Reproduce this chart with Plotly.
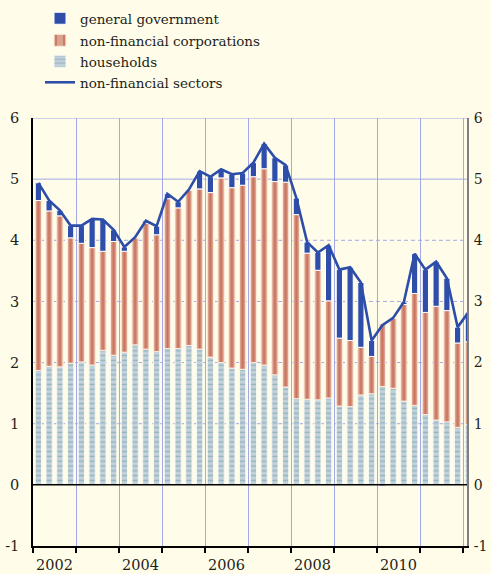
import plotly.graph_objects as go

# Quarterly observations, 2002 Q1 .. 2012 Q1
quarters = [2002 + 0.125 + 0.25 * i for i in range(41)]

households = [1.87, 1.94, 1.93, 1.99, 2.01, 1.96, 2.20, 2.12, 2.17, 2.29, 2.22, 2.18, 2.23, 2.23,
              2.28, 2.22, 2.09, 2.00, 1.91, 1.89, 2.00, 1.96, 1.80, 1.60, 1.41, 1.40, 1.39, 1.42,
              1.29, 1.28, 1.47, 1.49, 1.61, 1.58, 1.37, 1.30, 1.15, 1.06, 1.03, 0.94, 0.99]

non_fin_corp = [2.78, 2.54, 2.47, 2.05, 1.94, 1.92, 1.62, 1.86, 1.65, 1.75, 2.06, 1.91, 2.45, 2.30,
                2.54, 2.62, 2.69, 3.02, 2.95, 3.01, 3.04, 3.21, 3.16, 3.35, 3.01, 2.39, 2.12, 1.59,
                1.11, 1.08, 0.78, 0.61, 1.02, 1.15, 1.58, 1.83, 1.67, 1.86, 1.82, 1.38, 1.35]

general_gov = [0.29, 0.17, 0.09, 0.20, 0.29, 0.47, 0.52, 0.19, 0.07, 0.01, 0.04, 0.14, 0.08, 0.10,
               0.01, 0.29, 0.26, 0.14, 0.22, 0.20, 0.23, 0.41, 0.39, 0.28, 0.27, 0.18, 0.29, 0.91,
               1.12, 1.20, 1.06, 0.26, -0.02, 0.00, 0.04, 0.65, 0.70, 0.73, 0.53, 0.26, 0.48]

non_fin_sectors = [4.94, 4.65, 4.49, 4.24, 4.24, 4.35, 4.34, 4.17, 3.89, 4.05, 4.32, 4.23, 4.76, 4.63,
                   4.83, 5.13, 5.04, 5.16, 5.08, 5.10, 5.27, 5.58, 5.35, 5.23, 4.69, 3.97, 3.80, 3.92,
                   3.52, 3.56, 3.31, 2.36, 2.61, 2.73, 2.99, 3.78, 3.52, 3.65, 3.38, 2.58, 2.82]

year_bounds = list(range(2002, 2013))
label_years = [2002, 2004, 2006, 2008, 2010]
y_ticks = [-1, 0, 1, 2, 3, 4, 5, 6]
y_tick_text = ["-1", "0", "1", "2", "3", "4", "5", "6"]

BG = "#FFFDE9"
GRID = "#A3A8E6"
FONT = "DejaVu Serif, serif"
SLOT_PX = 10.75  # pixels per quarter

fig = go.Figure()
fig.add_trace(go.Bar(
    x=quarters, y=households, name="households", legend="legend3",
    marker=dict(color="#C3D1D9", line=dict(color="#F4F7F2", width=1),
                pattern=dict(shape="-", fgcolor="#6A98AA", bgcolor="#C3D1D9", size=4.8, solidity=0.32)),
))
fig.add_trace(go.Bar(
    x=quarters, y=non_fin_corp, name="non-financial corporations", legend="legend2",
    marker=dict(color="#D9A28C", line=dict(color="#FBEBDD", width=1),
                pattern=dict(shape="|", fgcolor="#BF3B2C", bgcolor="#D9A28C", size=SLOT_PX, solidity=0.2)),
))
fig.add_trace(go.Bar(
    x=quarters, y=general_gov, name="general government", legend="legend",
    marker=dict(color="#2E4EA9", line=dict(color="#FFFFFF", width=1)),
))
fig.add_trace(go.Scatter(
    x=quarters, y=non_fin_sectors, name="non-financial sectors", legend="legend4",
    mode="lines", line=dict(color="#2C4DA8", width=2.6),
))
# invisible trace to carry the right-hand axis
fig.add_trace(go.Scatter(x=[quarters[0]], y=[0], yaxis="y2", mode="markers",
                         marker=dict(opacity=0), showlegend=False, hoverinfo="skip"))

shapes = []
for v in [1, 2, 3, 4]:
    shapes.append(dict(type="line", xref="paper", x0=0, x1=1, yref="y", y0=v, y1=v,
                       line=dict(color=GRID, width=1, dash="4px,3px"), layer="below"))
for v in [5, 6]:
    shapes.append(dict(type="line", xref="paper", x0=0, x1=1, yref="y", y0=v, y1=v,
                       line=dict(color=GRID, width=1), layer="below"))
shapes.append(dict(type="line", xref="paper", x0=0, x1=1, yref="y", y0=0, y1=0,
                   line=dict(color="black", width=1.5), layer="above"))


def legend_box(top_px):
    return dict(xref="container", yref="container", x=40 / 491, y=1 - top_px / 574,
                xanchor="left", yanchor="top", bgcolor="rgba(0,0,0,0)",
                font=dict(family=FONT, size=13.5, color="#231F20"), itemwidth=30)


plot_w = 434
fig.update_layout(
    width=491, height=574,
    margin=dict(l=33, r=491 - 33 - plot_w, t=118, b=28, autoexpand=False),
    paper_bgcolor=BG, plot_bgcolor=BG,
    barmode="relative", bargap=0.42,
    font=dict(family=FONT, size=14, color="#231F20"),
    showlegend=True,
    legend=legend_box(3), legend2=legend_box(25), legend3=legend_box(46), legend4=legend_box(67),
    shapes=shapes,
    xaxis=dict(
        range=[2002, 2002 + plot_w / (4 * SLOT_PX)], automargin=False,
        tickvals=[y + 0.5 for y in label_years], ticktext=[str(y) for y in label_years],
        ticks="", showgrid=False, zeroline=False,
        showline=True, linecolor="black", linewidth=1.5,
        ticklabelstandoff=5,
        minor=dict(tickvals=year_bounds, ticks="outside", ticklen=5, tickcolor="black",
                   tickwidth=1.5, showgrid=True, gridcolor=GRID, gridwidth=1),
        tickfont=dict(family=FONT, size=14.5),
    ),
    yaxis=dict(
        range=[-1, 6], tickvals=y_ticks, ticktext=y_tick_text, showgrid=False, automargin=False,
        zeroline=False,
        showline=True, linecolor="black", linewidth=1.5, ticks="",
        ticklabelstandoff=9, tickfont=dict(family=FONT, size=14.5),
    ),
    yaxis2=dict(
        range=[-1, 6], tickvals=y_ticks, ticktext=y_tick_text, overlaying="y", side="right",
        showgrid=False, zeroline=False, showline=True, linecolor="#7F7F7F", linewidth=2,
        automargin=False, ticks="", ticklabelstandoff=2, tickfont=dict(family=FONT, size=14),
    ),
)

fig.write_html(
    "out.html",
    config={"displayModeBar": False},
    post_script="document.body.style.margin='0';document.body.style.background='#FFFDE9';",
)
